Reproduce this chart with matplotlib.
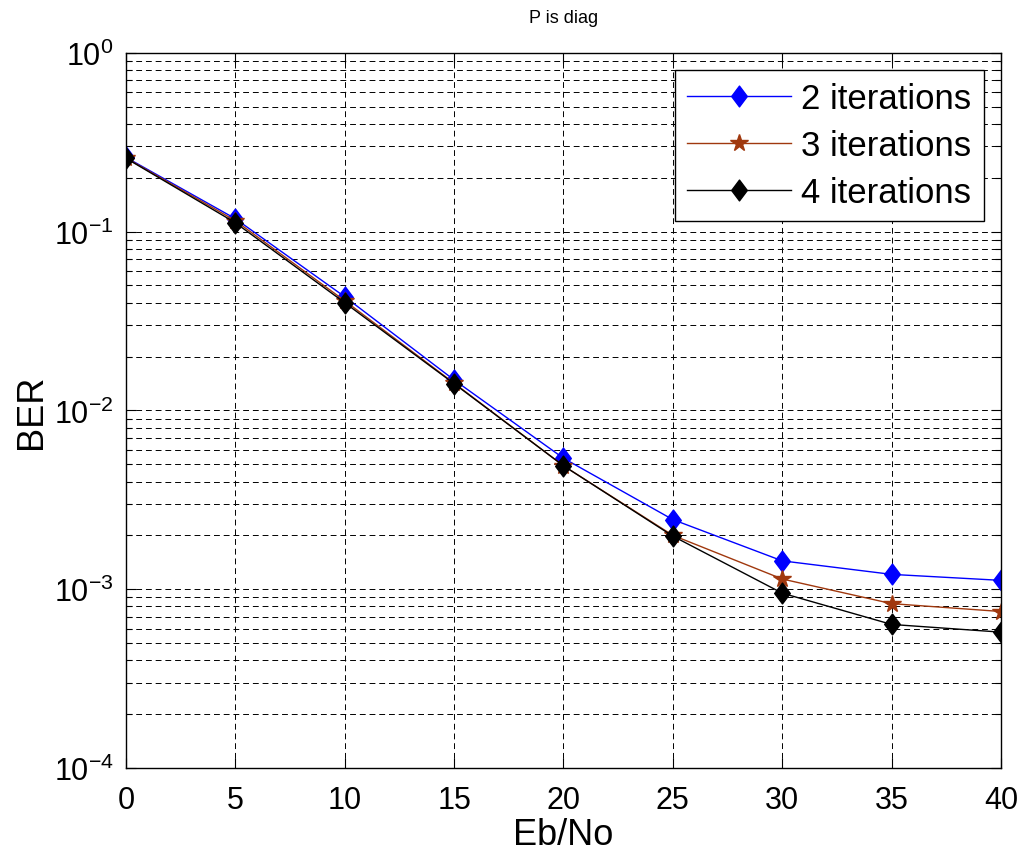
import numpy as np
import matplotlib.pyplot as plt
from matplotlib.path import Path
from matplotlib.ticker import LogLocator, LogFormatterSciNotation, NullFormatter

plt.rcParams['font.family'] = ['Liberation Sans', 'DejaVu Sans']
plt.rcParams['mathtext.fontset'] = 'custom'
plt.rcParams['mathtext.rm'] = 'Liberation Sans'
plt.rcParams['mathtext.default'] = 'regular'

ebno = [0, 5, 10, 15, 20, 25, 30, 35, 40]
ber_2 = [0.26, 0.118, 0.0432, 0.0148, 0.0054, 0.00245, 0.00144, 0.00121, 0.00112]
ber_3 = [0.258, 0.115, 0.041, 0.0142, 0.0049, 0.0020, 0.00114, 0.00083, 0.00075]
ber_4 = [0.257, 0.112, 0.040, 0.0141, 0.0049, 0.00198, 0.00095, 0.000635, 0.000575]
labels = ['2 iterations', '3 iterations', '4 iterations']

# MATLAB-like diamond (taller than wide)
diamond = Path([(0, 1), (0.75, 0), (0, -1), (-0.75, 0), (0, 1)],
               [Path.MOVETO, Path.LINETO, Path.LINETO, Path.LINETO, Path.CLOSEPOLY])

fig = plt.figure(figsize=(10.24, 8.53), dpi=100)
ax = fig.add_axes([0.123, 0.0985, 0.8545, 0.8385])

ax.semilogy(ebno, ber_2, color='#0000ff', lw=1.0, marker=diamond, ms=15, label=labels[0])
ax.semilogy(ebno, ber_3, color='#a0380e', lw=1.0, marker='*', ms=13, label=labels[1])
ax.semilogy(ebno, ber_4, color='black', lw=1.0, marker=diamond, ms=15, label=labels[2])

ax.set_xlim(0, 40)
ax.set_ylim(1e-4, 1e0)
ax.set_xticks(range(0, 41, 5))
ax.yaxis.set_major_locator(LogLocator(base=10, numticks=10))
ax.yaxis.set_minor_locator(LogLocator(base=10, subs=np.arange(2, 10), numticks=20))
ax.yaxis.set_major_formatter(LogFormatterSciNotation())
ax.yaxis.set_minor_formatter(NullFormatter())

ax.grid(True, which='major', ls=(0, (6, 4)), color='black', lw=0.7)
ax.grid(True, which='minor', axis='y', ls=(0, (6, 4)), color='black', lw=0.7)

ax.tick_params(which='both', direction='in', top=True, right=True, labelsize=22)
ax.tick_params(which='major', length=7, width=0.8)
ax.tick_params(which='minor', length=4, width=0.8)
ax.tick_params(axis='x', pad=12)
ax.tick_params(axis='y', pad=9)
for s in ax.spines.values():
    s.set_linewidth(1.0)

ax.set_xlabel('Eb/No', fontsize=26, labelpad=2)
ax.set_ylabel('BER', fontsize=26, labelpad=3)
ax.set_title('P is diag', fontsize=13, pad=22)

leg = ax.legend(loc='upper right', fontsize=25, fancybox=False, framealpha=1,
                edgecolor='black', handlelength=3.0, borderpad=0.35, labelspacing=0.4,
                handletextpad=0.3, borderaxespad=0.5)
leg.get_frame().set_linewidth(1.0)

fig.savefig('out.png', dpi=100)
